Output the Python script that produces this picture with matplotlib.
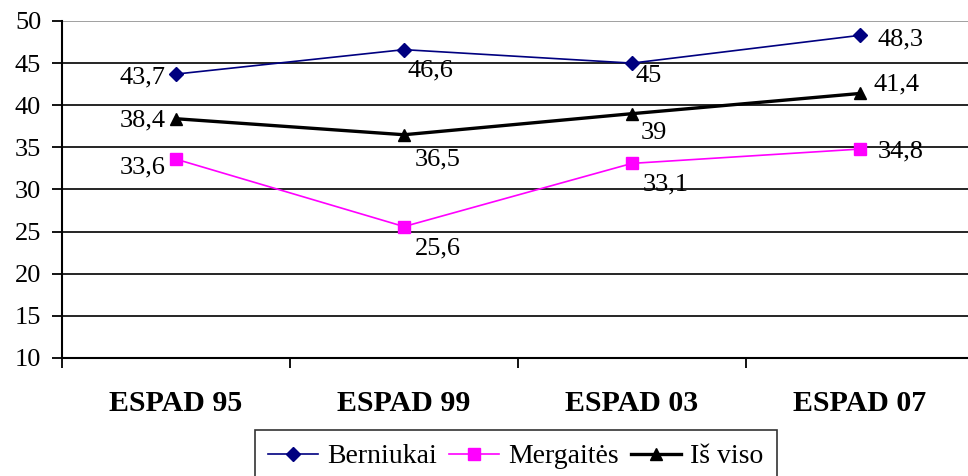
import matplotlib
matplotlib.use("Agg")
import matplotlib.pyplot as plt
from matplotlib.ticker import FixedLocator, NullFormatter

plt.rcParams['font.family'] = ['Liberation Serif', 'DejaVu Serif']

categories = ["ESPAD 95", "ESPAD 99", "ESPAD 03", "ESPAD 07"]
berniukai = [43.7, 46.6, 45.0, 48.3]
mergaites = [33.6, 25.6, 33.1, 34.8]
is_viso = [38.4, 36.5, 39.0, 41.4]
label_berniukai = ["43,7", "46,6", "45", "48,3"]
label_mergaites = ["33,6", "25,6", "33,1", "34,8"]
label_is_viso = ["38,4", "36,5", "39", "41,4"]
y_ticks = [10, 15, 20, 25, 30, 35, 40, 45, 50]

W, H = 968, 476
fig = plt.figure(figsize=(W / 100, H / 100), dpi=100)
ax = fig.add_axes([62 / W, (H - 358) / H, 1 - 62 / W, (358 - 21) / H])

x = list(range(len(categories)))
series = [
    ("Berniukai", berniukai, label_berniukai, dict(color="#000080", lw=1.2, marker="D", ms=7.5)),
    ("Mergaitės", mergaites, label_mergaites, dict(color="#FF00FF", lw=1.2, marker="s", ms=8)),
    ("Iš viso", is_viso, label_is_viso, dict(color="black", lw=2.4, marker="^", ms=9)),
]
# label offsets in pixels (dx, dy, ha)
offsets = {
    "Berniukai": [(-11, -9, "right"), (3, -27, "left"), (4, -19, "left"), (18, -10, "left")],
    "Mergaitės": [(-10, -14, "right"), (11, -28, "left"), (11, -27, "left"), (18, -8, "left")],
    "Iš viso": [(-10, -8, "right"), (11, -31, "left"), (9, -25, "left"), (14, 3, "left")],
}

handles = []
for name, vals, labs, st in series:
    h, = ax.plot(x, vals, label=name, zorder=3, clip_on=False, **st)
    handles.append(h)
    for xi, v, lab, (dx, dy, ha) in zip(x, vals, labs, offsets[name]):
        ax.annotate(lab, (xi, v), xytext=(dx, dy), textcoords="offset pixels",
                    ha=ha, va="baseline", fontsize=19, color="black", zorder=4)

ax.set_ylim(10, 50)
ax.set_xlim(-0.5, (W - 62) / 228 - 0.5)
ax.set_yticks(y_ticks)
ax.tick_params(axis="y", direction="out", length=7, width=1.3, labelsize=19, pad=8)
ax.grid(axis="y", color="black", lw=1.2, zorder=1)
gl = ax.get_ygridlines()
gl[-1].set_color("#909090")

ax.xaxis.set_major_locator(FixedLocator([i - 0.5 for i in range(len(categories) + 1)]))
ax.xaxis.set_major_formatter(NullFormatter())
ax.xaxis.set_minor_locator(FixedLocator(x))
ax.set_xticklabels(categories, minor=True, fontsize=21.5, fontweight="bold")
ax.tick_params(axis="x", which="major", direction="out", length=7, width=1.3)
ax.tick_params(axis="x", which="minor", length=0, pad=23)

for s in ["top", "right"]:
    ax.spines[s].set_visible(False)
ax.spines["left"].set_linewidth(1.5)
ax.spines["bottom"].set_linewidth(1.5)

leg = fig.legend(handles=handles, loc="upper center", bbox_to_anchor=(516 / W, (H - 430) / H),
                 ncol=3, fontsize=20, frameon=True, fancybox=False, edgecolor="black",
                 handlelength=1.8, handletextpad=0.33, columnspacing=0.43,
                 borderpad=0.5, borderaxespad=0)
leg.get_frame().set_linewidth(1.2)

fig.savefig("out.png", dpi=100)
